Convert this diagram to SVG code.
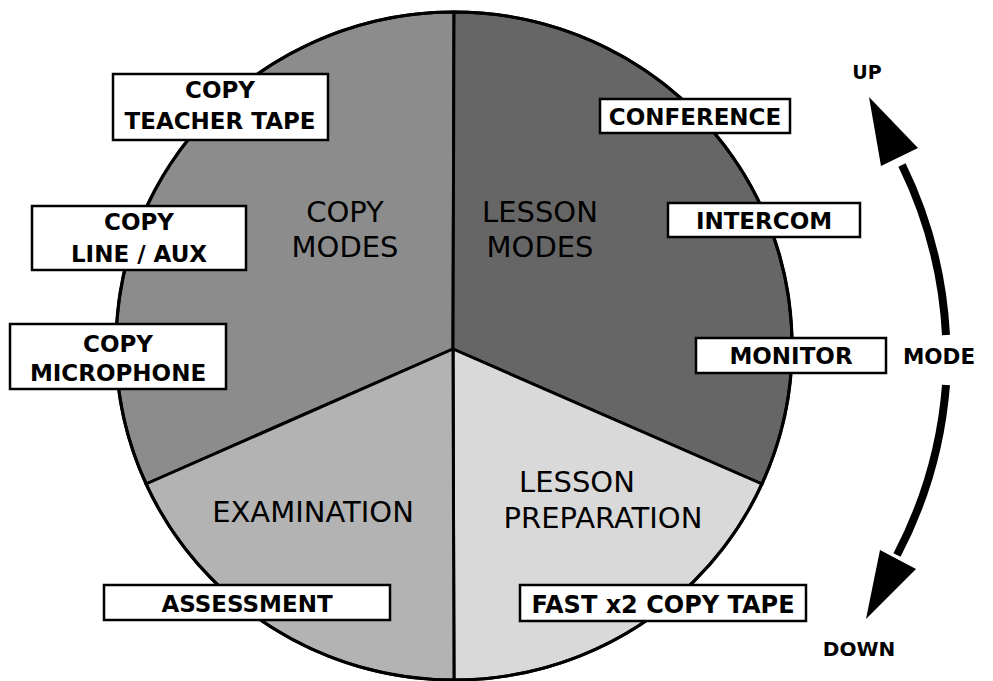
<svg xmlns="http://www.w3.org/2000/svg" width="993" height="681" viewBox="0 0 993 681">
<style>
.box{fill:#fff;stroke:#000;stroke-width:2.5}
.bt{font-family:"DejaVu Sans","Noto Sans",sans-serif;font-weight:bold;font-size:23px;text-anchor:middle;fill:#000}
.big{font-family:"DejaVu Sans","Noto Sans",sans-serif;font-size:29px;text-anchor:middle;fill:#000}
.sec{stroke:#000;stroke-width:3;stroke-linejoin:round}
</style>
<rect width="993" height="681" fill="#fff"/>
<g id="pie">
<path id="copy-modes" class="sec" fill="#8c8c8c" d="M453 349 L146 484 A338 334 0 0 1 454 12 Z"/>
<path id="lesson-modes" class="sec" fill="#666666" d="M453 349 L454 12 A338 334 0 0 1 762 484 Z"/>
<path id="lesson-prep" class="sec" fill="#d9d9d9" d="M453 349 L762 484 A338 334 0 0 1 454 680 Z"/>
<path id="examination" class="sec" fill="#b3b3b3" d="M453 349 L454 680 A338 334 0 0 1 146 484 Z"/>
<ellipse cx="454" cy="346" rx="338" ry="334" fill="none" stroke="#000" stroke-width="3"/>
</g>
<g id="sector-labels">
<text class="big" x="345" y="222">COPY</text>
<text class="big" x="345" y="257">MODES</text>
<text class="big" x="540" y="222">LESSON</text>
<text class="big" x="540" y="257">MODES</text>
<text class="big" x="313" y="522">EXAMINATION</text>
<text class="big" x="577" y="492">LESSON</text>
<text class="big" x="603" y="528">PREPARATION</text>
</g>
<g id="n-teacher-tape"><rect class="box" x="113" y="74" width="215" height="66"/><text class="bt" x="220" y="98">COPY</text><text class="bt" x="220" y="129">TEACHER TAPE</text></g>
<g id="n-line-aux"><rect class="box" x="32" y="206" width="214" height="64"/><text class="bt" x="139" y="230">COPY</text><text class="bt" x="139" y="262">LINE / AUX</text></g>
<g id="n-microphone"><rect class="box" x="10" y="324" width="216" height="65"/><text class="bt" x="118" y="352">COPY</text><text class="bt" x="118" y="381">MICROPHONE</text></g>
<g id="n-conference"><rect class="box" x="600" y="99" width="190" height="34"/><text class="bt" x="695" y="125">CONFERENCE</text></g>
<g id="n-intercom"><rect class="box" x="668" y="203" width="192" height="34"/><text class="bt" x="764" y="229">INTERCOM</text></g>
<g id="n-monitor"><rect class="box" x="696" y="338" width="190" height="35"/><text class="bt" x="791" y="364">MONITOR</text></g>
<g id="n-assessment"><rect class="box" x="104" y="585" width="286" height="35"/><text class="bt" x="247" y="612">ASSESSMENT</text></g>
<g id="n-fast-copy"><rect class="box" x="520" y="585" width="286" height="36"/><text class="bt" x="663" y="613" style="font-size:24px">FAST x2 COPY TAPE</text></g>
<g id="connectors">
<path d="M946 335 A440 440 0 0 0 902 165" fill="none" stroke="#000" stroke-width="8"/>
<path d="M946 385 A440 440 0 0 1 897 555" fill="none" stroke="#000" stroke-width="8"/>
<polygon points="869,97 881,166 918,148" fill="#000"/>
<polygon points="866,619 880,550 916,569" fill="#000"/>
</g>
<g id="mode-labels">
<text class="bt" x="867" y="79" style="font-size:19px">UP</text>
<text class="bt" x="859" y="656" style="font-size:20px">DOWN</text>
<text class="bt" x="939" y="364" style="font-size:21.5px">MODE</text>
</g>
</svg>
